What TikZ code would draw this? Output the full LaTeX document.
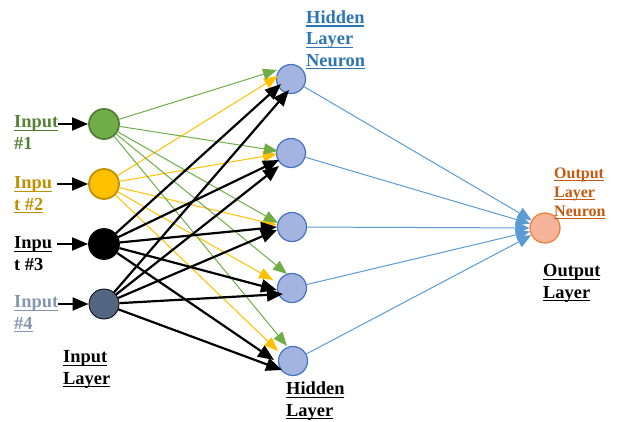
\documentclass[tikz,border=0pt]{standalone}
\usepackage{fontspec}
\setmainfont{Liberation Serif}
\usetikzlibrary{arrows.meta}
\definecolor{cgreen}{HTML}{70AD47}
\definecolor{cgreenb}{HTML}{507E32}
\definecolor{cyellow}{HTML}{FFC000}
\definecolor{cyellowb}{HTML}{BF9000}
\definecolor{cslate}{HTML}{536681}
\definecolor{chid}{HTML}{A3B4E0}
\definecolor{chidb}{HTML}{4472C4}
\definecolor{cout}{HTML}{F6B49A}
\definecolor{coutb}{HTML}{ED7D31}
\definecolor{cblue}{HTML}{5B9BD5}
\definecolor{lgreen}{HTML}{548235}
\definecolor{lyellow}{HTML}{BF9000}
\definecolor{lslate}{HTML}{8497B0}
\definecolor{lhid}{HTML}{2E75B6}
\definecolor{lout}{HTML}{C55A11}
\newsavebox\ulsavebox
\newcommand\uln[1]{\sbox\ulsavebox{#1}\rlap{\rule[-3.4pt]{\wd\ulsavebox}{1.4pt}}\usebox\ulsavebox}
\begin{document}
\begin{tikzpicture}[x=1pt,y=-1pt,
  lab/.style={font=\bfseries\fontsize{18.4}{21.3}\selectfont, align=left, inner sep=0pt, anchor=base west},
  labsmall/.style={font=\bfseries\fontsize{16}{19}\selectfont, align=left, inner sep=0pt, anchor=base west},
  inp/.style={circle, minimum size=30pt, inner sep=0pt, line width=1.8pt},
  hid/.style={circle, minimum size=29pt, inner sep=0pt, fill=chid, draw=chidb, line width=1.2pt},
  outn/.style={circle, minimum size=30pt, inner sep=0pt, fill=cout, draw=coutb, line width=1.2pt},
  inarrow/.style={line width=1.8pt, -{Triangle[length=16pt,width=13pt]}},
  gline/.style={cgreen, line width=1pt, -{Triangle[length=14pt,width=11pt]}},
  yline/.style={cyellow, line width=1pt, -{Triangle[length=14pt,width=11pt]}},
  kline/.style={black, line width=2.2pt, -{Triangle[length=16pt,width=13pt]}},
  bline/.style={cblue, line width=1pt, -{Triangle[length=14pt,width=12pt]}}]
\useasboundingbox (0,0) rectangle (617,421);

% input nodes
\node[inp, fill=cgreen, draw=cgreenb] (in1) at (104,124) {};
\node[inp, fill=cyellow, draw=cyellowb] (in2) at (104,184) {};
\node[inp, fill=black, draw=black] (in3) at (104,244) {};
\node[inp, fill=cslate, draw=black, line width=0.8pt] (in4) at (104,304) {};

% hidden nodes
\node[hid] (h1) at (291,79) {};
\node[hid] (h2) at (291,153) {};
\node[hid] (h3) at (292,227) {};
\node[hid] (h4) at (292,288) {};
\node[hid] (h5) at (293,361) {};

% output node
\node[outn] (out) at (545,228) {};

% labels (anchored at the baseline of the last line)
\node[lab, text=lgreen] (l1) at (14,149) {\uln{Input}\\\#1};
\node[lab, text=lyellow] (l2) at (14,210) {\uln{Inpu}\\\uln{t \#2}};
\node[lab, text=black] (l3) at (14,270) {\uln{Inpu}\\t \#3};
\node[lab, text=lslate] (l4) at (14,329) {\uln{Input}\\\uln{\#4}};
\node[lab] (li) at (63,384) {\uln{Input}\\\uln{Layer}};
\node[lab] (lh) at (286,416) {\uln{Hidden}\\\uln{Layer}};
\node[lab, text=lhid] (lhn) at (306,66) {\uln{Hidden}\\\uln{Layer}\\\uln{Neuron}};
\node[lab] (lo) at (543,298) {\uln{Output}\\\uln{Layer}};
\node[labsmall, text=lout] (lon) at (554,216) {\uln{Output}\\\uln{Layer}\\\uln{Neuron}};

% input arrows
\coordinate (a1) at (58,124);
\coordinate (a2) at (57,184);
\coordinate (a3) at (57,244);
\coordinate (a4) at (58,304);
\foreach \i in {1,...,4} \draw[inarrow] (a\i) -- (in\i);

% arrow tip points near hidden nodes
\coordinate (g1) at (277,70);  \coordinate (g2) at (278,151); \coordinate (g3) at (278,223);
\coordinate (g4) at (287,274); \coordinate (g5) at (287,346);
\coordinate (y1) at (278,76);  \coordinate (y2) at (277,154); \coordinate (y3) at (277,225);
\coordinate (y4) at (273,280); \coordinate (y5) at (278,351);
\coordinate (b1) at (281,84);  \coordinate (b2) at (279,160); \coordinate (b3) at (277,227);
\coordinate (b4) at (277,290); \coordinate (b5) at (274,360);
\coordinate (k1) at (289,90);  \coordinate (k2) at (279,166); \coordinate (k3) at (277,230);
\coordinate (k4) at (283,294); \coordinate (k5) at (282,370);

\foreach \j in {1,...,5} \draw[yline] (in2) -- (y\j);
\foreach \j in {1,...,5} \draw[gline] (in1) -- (g\j);
\foreach \j in {1,...,5} \draw[kline] (in3) -- (b\j);
\foreach \j in {1,...,5} \draw[kline] (in4) -- (k\j);

% hidden to output
\foreach \j in {1,...,5} \draw[bline] (h\j) -- (out);
\end{tikzpicture}
\end{document}
